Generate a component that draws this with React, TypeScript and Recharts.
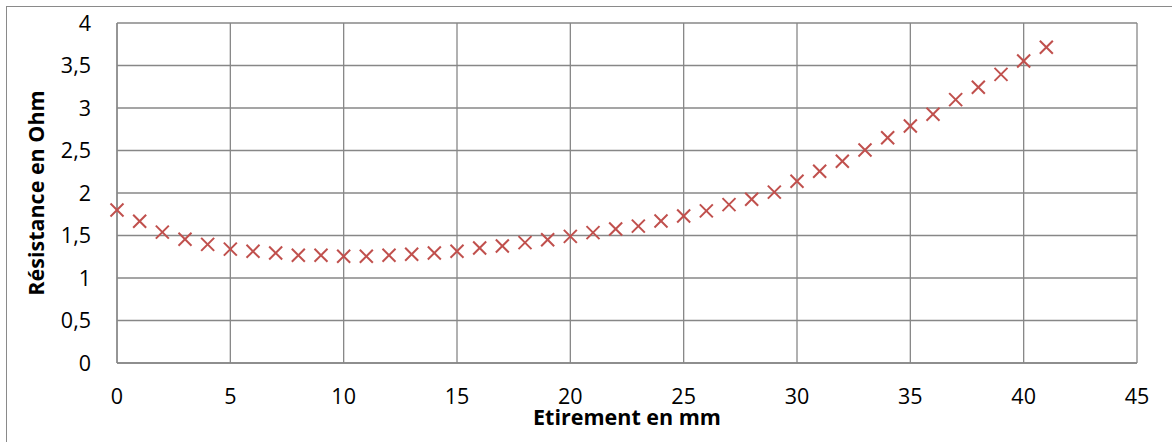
import React from "react";
import { ScatterChart, Scatter, XAxis, YAxis, CartesianGrid, Label } from "recharts";

const stretchMm = [0,1,2,3,4,5,6,7,8,9,10,11,12,13,14,15,16,17,18,19,20,21,22,23,24,25,26,27,28,29,30,31,32,33,34,35,36,37,38,39,40,41];
const resistanceOhm = [1.80,1.667,1.54,1.455,1.396,1.34,1.314,1.294,1.267,1.267,1.255,1.255,1.268,1.279,1.294,1.314,1.353,1.376,1.416,1.45,1.49,1.534,1.576,1.61,1.67,1.73,1.79,1.863,1.926,2.01,2.138,2.255,2.373,2.506,2.65,2.788,2.926,3.099,3.244,3.396,3.553,3.714];
const xTicks = [0,5,10,15,20,25,30,35,40,45];
const yTicks = [0,0.5,1,1.5,2,2.5,3,3.5,4];

const data = stretchMm.map((x, i) => ({ x, y: resistanceOhm[i] }));

const FONT = "'Open Sans', sans-serif";
const GRID = "#878787";
const RED = "#C0504D";

const Cross = (props: any) => {
  const { cx, cy } = props;
  const r = 6.5;
  return (
    <g>
      <line x1={cx - r} y1={cy - r} x2={cx + r} y2={cy + r} stroke={RED} strokeWidth={2} />
      <line x1={cx - r} y1={cy + r} x2={cx + r} y2={cy - r} stroke={RED} strokeWidth={2} />
    </g>
  );
};

const fmt = (v: number) => String(v).replace(".", ",");

export default function App() {
  return (
    <div style={{ position: "fixed", left: 0, top: 0, width: 1172, height: 442, overflow: "hidden", background: "#fff" }}>
      <div style={{ position: "absolute", left: 6, top: 6, width: 1300, height: 600, border: "1px solid #8a8a8a", boxSizing: "border-box" }} />
      <div style={{ position: "absolute", left: 0, top: 0 }}>
        <ScatterChart width={1172} height={442} margin={{ top: 23, right: 35, bottom: 29, left: 57 }}>
          <CartesianGrid stroke={GRID} strokeWidth={1.3} />
          <XAxis
            type="number"
            dataKey="x"
            domain={[0, 45]}
            ticks={xTicks}
            height={50}
            tickLine={false}
            tickSize={0}
            tickMargin={26}
            axisLine={{ stroke: GRID, strokeWidth: 1.3 }}
            tick={{ fill: "#000", fontSize: 21.5, fontFamily: FONT }}
          >
            <Label
              content={(p: any) => {
                const vb = p.viewBox;
                return (
                  <text x={vb.x + vb.width / 2} y={vb.y + 61.5} textAnchor="middle" fontFamily={FONT} fontWeight="bold" fontSize={21.5} fill="#000">
                    Etirement en mm
                  </text>
                );
              }}
            />
          </XAxis>
          <YAxis
            type="number"
            dataKey="y"
            domain={[0, 4]}
            ticks={yTicks}
            width={60}
            tickLine={false}
            tickSize={0}
            tickMargin={26}
            tickFormatter={fmt}
            axisLine={{ stroke: GRID, strokeWidth: 1.3 }}
            tick={{ fill: "#000", fontSize: 21.5, fontFamily: FONT }}
          >
            <Label
              content={(p: any) => {
                const vb = p.viewBox;
                const cx = vb.x - 22;
                const cy = vb.y + vb.height / 2;
                return (
                  <text x={cx} y={cy} textAnchor="middle" dominantBaseline="central" transform={`rotate(-90, ${cx}, ${cy})`} fontFamily={FONT} fontWeight="bold" fontSize={21.5} fill="#000">
                    Résistance en Ohm
                  </text>
                );
              }}
            />
          </YAxis>
          <Scatter data={data} shape={<Cross />} isAnimationActive={false} />
        </ScatterChart>
      </div>
    </div>
  );
}
